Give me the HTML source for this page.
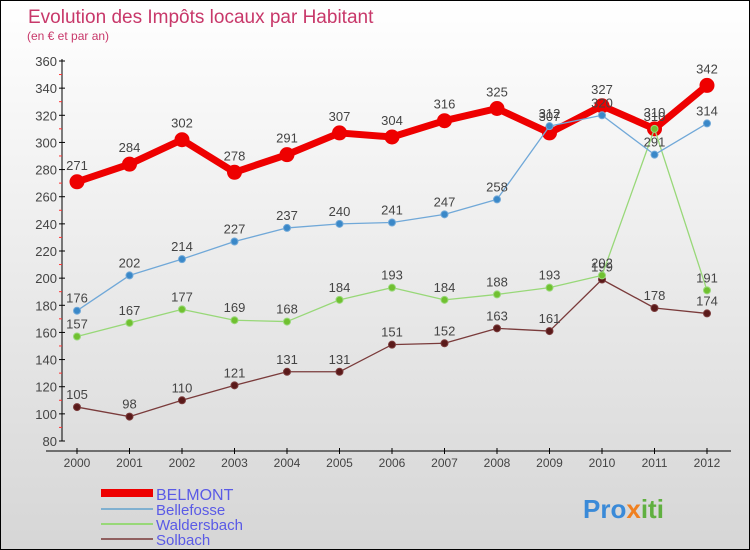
<!DOCTYPE html>
<html><head><meta charset="utf-8"><style>
body{margin:0}
#c{width:750px;height:550px;position:relative;box-sizing:border-box;border:1px solid #000;background:linear-gradient(#ffffff,#d6d6d6);font-family:"Liberation Sans",sans-serif;overflow:hidden}
</style></head><body>
<div id="c">
<svg id="s" width="750" height="550" style="position:absolute;left:0;top:0">
<text x="27" y="22" font-size="19" fill="#c8386a">Evolution des Impôts locaux par Habitant</text>
<text x="26" y="39" font-size="12" fill="#c8386a">(en € et par an)</text>
<g id="axes"></g><g id="series"></g>
<g>
<rect x="100" y="488" width="52" height="8" fill="#e00"/>
<text x="155" y="499" font-size="16" fill="#5a5ae6">BELMONT</text>
<rect x="100" y="507" width="52" height="2" fill="#80b0d0"/>
<text x="155" y="514" font-size="15" fill="#5a5ae6">Bellefosse</text>
<rect x="100" y="522" width="52" height="2" fill="#98d878"/>
<text x="155" y="529" font-size="15" fill="#5a5ae6">Waldersbach</text>
<rect x="100" y="537" width="52" height="2" fill="#906060"/>
<text x="155" y="544" font-size="15" fill="#5a5ae6">Solbach</text>
</g>
<text x="582" y="517" font-size="26" font-weight="bold" fill="#3a8ad8">Pro<tspan fill="#f08020">x</tspan><tspan fill="#60b040">iti</tspan></text>
</svg></div>
<script>
const years=[2000,2001,2002,2003,2004,2005,2006,2007,2008,2009,2010,2011,2012];
const yTicks=[80,100,120,140,160,180,200,220,240,260,280,300,320,340,360];
const belmont=[271,284,302,278,291,307,304,316,325,307,327,310,342];
const bellefosse=[176,202,214,227,237,240,241,247,258,312,320,291,314];
const waldersbach=[157,167,177,169,168,184,193,184,188,193,202,310,191];
const solbach=[105,98,110,121,131,131,151,152,163,161,199,178,174];
const NS="http://www.w3.org/2000/svg";
const xS=i=>76+i*52.5, yS=v=>440-(v-80)*380/280;
function mk(p,t,a){const e=document.createElementNS(NS,t);for(const k in a)e.setAttribute(k,a[k]);p.appendChild(e);return e;}
const ax=document.getElementById('axes');
const yl=mk(ax,'line',{x1:61,y1:58,x2:61,y2:440,stroke:'#000'});


const xl=mk(ax,'line',{x1:45,y1:450,x2:730,y2:450,stroke:'#000'});


yTicks.forEach(v=>{const y=yS(v);
mk(ax,'line',{x1:58,y1:y,x2:64,y2:y,stroke:'#000'});
if(v<360)mk(ax,'line',{x1:58,y1:y-13.6,x2:61,y2:y-13.6,stroke:'#f33'});
const t=mk(ax,'text',{x:56,y:y+5,'text-anchor':'end','font-size':13,fill:'#444'});t.textContent=v;

});
years.forEach((yr,i)=>{const x=xS(i);
mk(ax,'line',{x1:x,y1:447,x2:x,y2:453,stroke:'#000'});
const t=mk(ax,'text',{x:x,y:466,'text-anchor':'middle','font-size':12,fill:'#444'});t.textContent=yr;

});
const sg=document.getElementById('series');
function draw(data,name,col,w,r,dot,off){
const g=mk(sg,'g',{});


mk(g,'polyline',{points:data.map((v,i)=>xS(i)+','+yS(v)).join(' '),fill:'none',stroke:col,'stroke-width':w,'stroke-linejoin':'round'});
data.forEach((v,i)=>{const c=mk(g,'circle',{cx:xS(i),cy:yS(v),r:r,fill:dot,stroke:col,'stroke-width':1});


const t=mk(g,'text',{x:xS(i),y:yS(v)-off,'text-anchor':'middle','font-size':13,fill:'#444'});t.textContent=v;

});}
draw(belmont,'belmont','#ee0000',7,7,'#ee0000',12);
draw(solbach,'solbach','#7a3b3b',1.3,3.5,'#5a1a1a',8);
draw(waldersbach,'waldersbach','#98d878',1.3,3.5,'#70c030',8);
draw(bellefosse,'bellefosse','#70a8d8',1.3,3.5,'#3a88c8',8);
</script>
</body></html>
